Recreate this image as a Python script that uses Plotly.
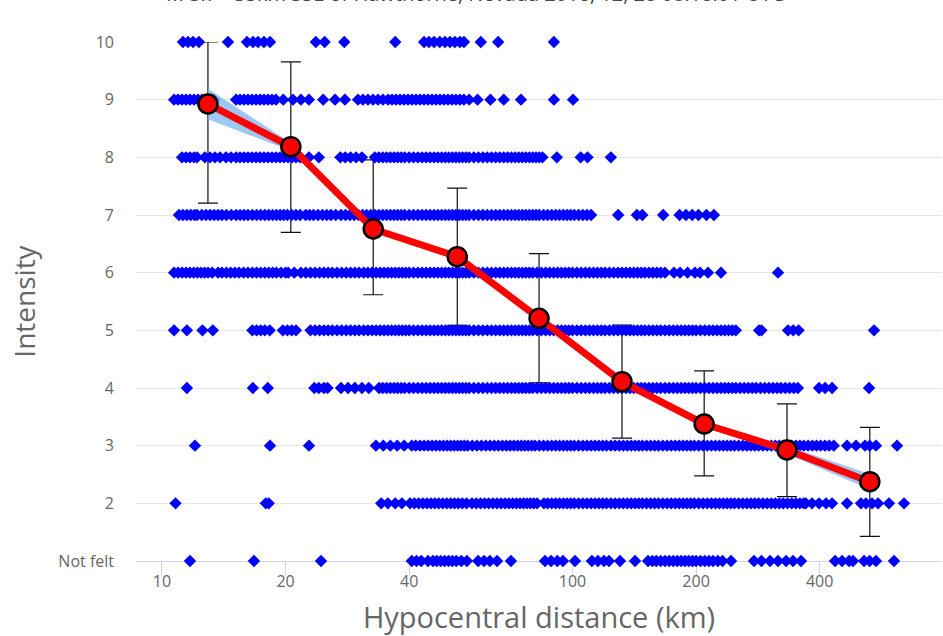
import plotly.graph_objects as go

# ---------------- data ----------------
# individual responses: hypocentral distance (km) per intensity row
dist_i10 = [11.25, 11.57, 11.90, 12.30, 14.48, 16.11, 16.66, 17.14, 17.72, 18.33, 23.7, 24.9, 27.8,
            37.0, 43.5, 44.7, 46.0, 47.5, 48.9, 50.3, 51.7, 53.2, 54.4, 59.8, 65.9, 90.1]
dist_i9 = [10.70, 10.94, 11.19, 11.44, 11.70, 11.97, 12.24, 12.51, 12.80, 13.09, 13.39,
           15.15, 15.49, 15.84, 16.20, 16.57, 16.95, 17.34, 17.72, 18.12, 18.53, 18.95,
           19.74, 20.85, 21.8, 22.8, 24.7, 26.4, 27.9,
           30.02, 30.87, 31.75, 32.66, 33.59, 34.54, 35.53, 36.33, 37.16, 38.00, 38.86, 39.74,
           40.64, 41.56, 42.50, 43.47, 44.45, 45.46, 46.49, 47.54, 48.62, 49.72, 50.85, 52.00,
           53.18, 54.38, 56.0, 58.7, 63.1, 68.0, 74.9, 90.1, 100.3]
dist_i8 = [11.19, 11.44, 11.70, 11.97, 12.17, 12.72, 13.09, 13.46, 13.85, 14.32, 14.73,
           15.15, 15.49, 15.84, 16.20, 16.57, 16.95, 17.34, 17.72, 18.12, 18.53, 18.95, 19.39,
           19.82, 20.28, 20.74, 21.2, 21.7, 22.8, 24.1, 27.2, 27.95, 28.8, 29.7, 30.7,
           33, 33.75, 34.5, 35.25, 36, 36.75, 37.5, 38.25, 39, 40, 41, 42, 43, 44, 45, 46, 47,
           48, 49, 50, 51, 52, 53, 54, 55, 56, 57.5, 59, 60.5, 62, 63.5, 65, 66.5, 68, 69.5, 71,
           72.5, 74, 75.5, 77, 78.5, 80, 81.5, 83, 84.5, 91.6, 104.7, 108.8, 124.0]
dist_i7 = [11.0, 11.25, 11.5, 11.75, 12.0, 12.17, 12.5, 12.8, 13.1, 13.4, 13.7, 14.0, 14.35, 14.75,
           15.15, 15.5, 15.85, 16.2, 16.6, 17.0, 17.4, 17.8, 18.2, 18.6, 19.0, 19.4, 19.8, 20.2,
           20.7, 21.2, 21.7, 22.4, 22.9, 23.4, 24.0, 24.6, 25.2, 25.8, 26.5,
           27.3, 28, 28.7, 29.4, 30.1, 30.8, 31.5, 32.25, 33, 33.75, 34.5, 35.25, 36, 36.75, 37.5,
           38.25, 39, 40, 41, 42, 43, 44, 45, 46, 47, 48, 49, 50, 51, 52, 53, 54, 55, 56, 57.5,
           59, 60.5, 62, 63.5, 65, 66.5, 68, 69.5, 71, 72.5, 74, 75.5, 77, 78.5, 80, 81.5, 83, 85,
           87, 89, 91, 93, 95, 97, 99, 101, 103.5, 106, 108.5, 111,
           129.2, 143.5, 147.9, 166.3, 182.3, 189.0, 195.7, 202.7, 212.0, 221.0]
dist_i6 = [10.7, 10.95, 11.2, 11.45, 11.7, 11.95, 12.2, 12.45, 12.7, 12.95, 13.25,
           13.7, 14.0, 14.35, 14.7, 15.05, 15.4, 15.8, 16.2, 16.6, 17.0, 17.4, 17.8, 18.2, 18.6,
           19.0, 19.5, 20.0, 20.3, 21.0, 21.8,
           22.4, 23, 23.6, 24.2, 24.8, 25.4, 26, 26.7, 27.4, 28.1, 28.8, 29.5, 30.2, 31, 31.75,
           32.5, 33.25, 34, 34.75, 35.5, 36.25, 37, 37.75, 38.5, 39.25, 40, 41, 42, 43, 44, 45,
           46, 47, 48, 49, 50, 51, 52, 53, 54, 55, 56, 57.5, 59, 60.5, 62, 63.5, 65, 66.5, 68,
           69.5, 71, 72.5, 74, 75.5, 77, 78.5, 80, 82, 84, 86, 88, 90, 92, 94, 96, 98, 100,
           102.5, 105, 107.5, 110, 112.5, 115, 117.5, 120, 123, 126, 129, 132, 135, 138, 141,
           144, 147, 150, 153.5, 157, 160.5, 164, 168,
           176.7, 182.8, 190.7, 198.7, 204.5, 213.9, 230.0, 316.7]
dist_i5 = [10.7, 11.5, 12.55, 13.3, 16.6, 17.0, 17.4, 17.8, 18.3, 19.7, 20.2, 20.7, 21.2,
           23, 23.6, 24.2, 24.8, 25.4, 26, 26.7, 27.4, 28.1, 28.8, 29.5, 30.2, 31, 31.75, 32.5,
           33.25, 34, 34.75, 35.5, 36.25, 37, 37.75, 38.5, 39.25, 40, 41, 42, 43, 44, 45, 46, 47,
           48, 49, 50, 51, 52, 53, 54, 55, 56, 57.5, 59, 60.5, 62, 63.5, 65, 66.5, 68, 69.5, 71,
           72.5, 74, 75.5, 77, 78.5, 80, 82, 84, 86, 88, 90, 92, 94, 96, 98, 100, 102.5, 105,
           107.5, 110, 112.5, 115, 117.5, 120, 123, 126, 129, 132, 135, 138, 141, 144, 147, 150,
           153.5, 157, 160.5, 164, 168, 172, 176, 180, 184, 188, 192, 196, 200, 205, 210, 215,
           220, 225, 230, 235, 240, 245, 250,
           284.7, 288.6, 335.0, 344.9, 355.4, 542.7]
dist_i4 = [11.5, 16.65, 18.1, 23.5, 24.1, 24.8, 25.3, 27.3, 28.4, 29.5, 30.7, 31.9,
           33.8, 34.5, 35.25, 36, 36.75, 37.5, 38.25, 39, 40, 41, 42, 43, 44, 45, 46, 47, 48, 49,
           50, 51, 52, 53, 54, 55, 56, 57.5, 59, 60.5, 62, 63.5, 65, 66.5, 68, 69.5, 71, 72.5,
           74, 75.5, 77, 78.5, 80, 82, 84, 86, 88, 90, 92, 94, 96, 98, 100, 102.5, 105, 107.5,
           110, 112.5, 115, 117.5, 120, 123, 126, 129, 132, 135, 138, 141, 144, 147, 150, 153.5,
           157, 160.5, 164, 168, 172, 176, 180, 184, 188, 192, 196, 200, 205, 210, 215, 220, 225,
           230, 235, 240, 245, 250, 256, 262, 268, 274, 280, 287, 294, 301, 308, 315, 322, 330,
           338, 346, 354,
           398.6, 412.3, 428.8, 527.8]
dist_i3 = [12.03, 18.33, 22.81, 33.2, 34.6, 36.0, 37.4, 38.9,
           40.6, 41.5, 42.5, 43.5, 44.5, 45.5, 46.5, 47.5, 48.5, 49.5, 50.5, 51.5, 52.5, 53.5,
           54.5, 55.5, 57, 58.5, 60, 61.5, 63, 64.5, 66, 67.5, 69, 70.5, 72, 73.5, 75, 76.5, 78,
           79.5, 81, 83, 85, 87, 89, 91, 93, 95, 97, 99, 101, 103.5, 106, 108.5, 111, 113.5, 116,
           118.5, 121, 124, 127, 130, 133, 136, 139, 142, 145, 148, 151.5, 155, 158.5, 162, 166,
           170, 174, 178, 182, 186, 190, 194, 198, 203, 208, 213, 218, 223, 228, 233, 238, 243,
           248, 254, 260, 266, 272, 278, 284, 291, 298, 305, 312, 319, 326, 334, 342, 350, 358,
           366, 375, 384, 393, 402, 412, 422, 433,
           466.4, 490.5, 515.9, 529.5, 548.7, 617.4]
dist_i2 = [10.79, 17.9, 18.2, 34.2, 35.5, 37.0, 38.4,
           40.2, 41.2, 42.2, 43.2, 44.2, 45.2, 46.2, 47.2, 48.3, 49.4, 50.5, 51.6, 52.7, 53.9,
           55.2, 56.9, 58.3, 59.7, 61.1, 62.5, 64, 65.5, 67, 68.5, 70, 71.5, 73, 74.5, 76, 77.5,
           79, 80.5, 82,
           85.2, 87, 89, 91, 93, 95, 97, 99, 101, 103.5, 106, 108.5, 111, 113.5, 116, 118.5, 121,
           124, 127, 130, 133, 136, 139, 142, 145, 148, 151.5, 155, 158.5, 162, 166, 170, 174,
           178, 182, 186, 190, 194, 198, 203, 208, 213, 218, 223, 228, 233, 238, 243, 248, 254,
           260, 266, 272, 278, 284, 291, 298, 305, 312, 319, 326, 334, 342, 350, 358, 366, 370,
           383.2, 398.6, 414.6, 428.8, 466.4, 504.3, 518.6, 536.6, 555.0, 590.2, 642.1]
dist_notfelt = [11.70, 16.75, 24.4, 40.6, 41.7, 42.8, 44.46, 45.73, 46.7, 47.75, 48.8, 49.9,
                50.97, 52.1, 53.6, 55.3, 58.9, 60.9, 62.9, 65.5, 70.8, 85.7, 88.7, 91.8, 94.8,
                101.4, 111.5, 115.3, 119.3, 122.7, 130.5, 142.0,
                152.8, 156.5, 160, 164, 168, 172, 176, 180, 184, 188, 192, 196, 200, 205, 210,
                215, 220, 226, 232, 243.3, 276.8, 288.6, 302.8, 316.7, 331.3, 344.5, 360.3,
                436.1, 453.6, 471.7, 482.3, 513.1, 529.5, 548.7, 607.0]

# binned means with standard deviations
bin_dist = [12.94, 20.6, 32.7, 52.4, 82.9, 132.0, 209.3, 333.0, 530.0]
bin_mean = [8.925, 8.185, 6.757, 6.277, 5.209, 4.110, 3.376, 2.925, 2.376]
err_plus = [1.075, 1.47, 1.20, 1.19, 1.12, 0.98, 0.92, 0.80, 0.94]
err_minus = [1.72, 1.485, 1.14, 1.19, 1.12, 0.98, 0.90, 0.81, 0.95]
band_upper = [9.19, 8.255, 6.80, 6.32, 5.25, 4.15, 3.42, 2.995, 2.51]
band_lower = [8.66, 8.115, 6.71, 6.23, 5.17, 4.07, 3.33, 2.855, 2.24]

# y axis categories
y_tickvals = [1, 2, 3, 4, 5, 6, 7, 8, 9, 10]
y_ticktext = ["Not felt", "2", "3", "4", "5", "6", "7", "8", "9", "10"]
x_tickvals = [10, 20, 40, 100, 200, 400]
x_ticktext = ["10", "20", "40", "100", "200", "400"]

title_text = "M 5.7 - 35km SSE of Hawthorne, Nevada 2016, 12, 28 08:18:01 UTC"

# ---------------- figure ----------------
rows = [(10, dist_i10), (9, dist_i9), (8, dist_i8), (7, dist_i7), (6, dist_i6),
        (5, dist_i5), (4, dist_i4), (3, dist_i3), (2, dist_i2), (1, dist_notfelt)]
xs, ys = [], []
for lvl, dl in rows:
    xs.extend(dl)
    ys.extend([lvl] * len(dl))

FONT = "Open Sans"
GREY = "#666666"
BLUE = "#0000ff"

fig = go.Figure()

# error bars (beneath the response markers)
fig.add_trace(go.Scatter(
    x=bin_dist, y=bin_mean, mode="markers",
    marker=dict(size=1, color="rgba(0,0,0,0)"),
    error_y=dict(type="data", symmetric=False, array=err_plus, arrayminus=err_minus,
                 color="#111111", thickness=1.2, width=10),
    hoverinfo="skip", showlegend=False))

# individual responses
fig.add_trace(go.Scatter(
    x=xs, y=ys, mode="markers",
    marker=dict(symbol="diamond", size=8, color=BLUE, line=dict(width=1.4, color=BLUE)),
    cliponaxis=False, showlegend=False, hoverinfo="skip"))

# light blue band
fig.add_trace(go.Scatter(x=bin_dist, y=band_lower, mode="lines", line=dict(width=0),
                         showlegend=False, hoverinfo="skip"))
fig.add_trace(go.Scatter(x=bin_dist, y=band_upper, mode="lines", line=dict(width=0),
                         fill="tonexty", fillcolor="rgba(124,181,236,0.75)",
                         showlegend=False, hoverinfo="skip"))

# binned means
fig.add_trace(go.Scatter(
    x=bin_dist, y=bin_mean, mode="lines+markers",
    line=dict(color="#ff0000", width=7),
    marker=dict(symbol="circle", size=19, color="#ff0000", line=dict(color="#000000", width=2.5)),
    cliponaxis=False, showlegend=False, hoverinfo="skip"))

# chart title, mostly above the visible page as in the reference
fig.add_annotation(
    text=title_text, xref="paper", yref="paper", x=0.42, y=1.063,
    xanchor="center", yanchor="bottom", showarrow=False,
    font=dict(family=FONT, size=20, color="#444444"))

fig.update_layout(
    width=943, height=636,
    margin=dict(l=136, r=1, t=42, b=75),
    paper_bgcolor="white", plot_bgcolor="white",
    font=dict(family=FONT, color=GREY),
    hovermode=False,
    xaxis=dict(
        type="log", range=[0.9367, 2.9001],
        tickvals=x_tickvals, ticktext=x_ticktext,
        showgrid=False, zeroline=False,
        showline=True, linecolor="#ccd6eb", linewidth=1,
        ticks="outside", ticklen=14, tickcolor="#ccd6eb", tickwidth=1,
        tickfont=dict(family=FONT, size=16, color=GREY),
        ticklabelstandoff=-8,
        layer="below traces",
        title=dict(text="Hypocentral distance (km)", standoff=16,
                   font=dict(family=FONT, size=29, color=GREY)),
    ),
    yaxis=dict(
        range=[1, 10], tickvals=y_tickvals, ticktext=y_ticktext,
        showgrid=True, gridcolor="#e6e6e6", gridwidth=1,
        zeroline=False, showline=False, ticks="",
        tickfont=dict(family=FONT, size=16, color=GREY),
        ticklabelstandoff=21,
        layer="below traces",
        title=dict(text="Intensity", standoff=14,
                   font=dict(family=FONT, size=28, color=GREY)),
    ),
)

fig.write_html("out.html", config={"displayModeBar": False},
               post_script="document.body.style.margin='0';")
